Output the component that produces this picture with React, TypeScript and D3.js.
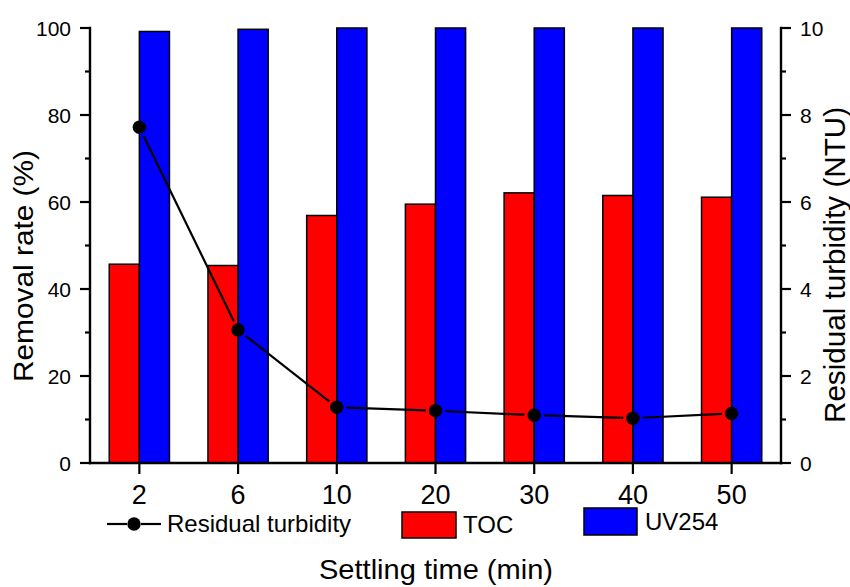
import React from "react";
import * as d3 from "d3";

// Settling time categories (min)
const categories = ["2", "6", "10", "20", "30", "40", "50"];
// Removal rates (%)
const tocRemoval = [45.7, 45.4, 56.9, 59.5, 62.1, 61.5, 61.1];
const uv254Removal = [99.2, 99.7, 100, 100, 100, 100, 100];
// Residual turbidity (NTU)
const turbidity = [7.72, 3.06, 1.28, 1.2, 1.1, 1.03, 1.14];

const leftTicks = [0, 20, 40, 60, 80, 100];
const leftMinor = [10, 30, 50, 70, 90];
const rightTicks = [0, 2, 4, 6, 8, 10];
const rightMinor = [1, 3, 5, 7, 9];

const W = 850;
const H = 587;
const M = { left: 90, right: 781, top: 28, bottom: 463 };
const FONT = "'Liberation Sans', Arial, sans-serif";
const RED = "#ff0000";
const BLUE = "#0000ff";

export default function App() {
  const x = d3.scaleBand<string>().domain(categories).range([M.left, M.right]).padding(0);
  const yL = d3.scaleLinear().domain([0, 100]).range([M.bottom, M.top]);
  const yR = d3.scaleLinear().domain([0, 10]).range([M.bottom, M.top]);
  const bw = x.bandwidth() * 0.305;
  const cx = (c: string) => (x(c) as number) + x.bandwidth() / 2;

  const pts = categories.map((c, i) => [cx(c), yR(turbidity[i])] as [number, number]);
  const r = 6.7;
  const gap = r + 3;
  const segs = pts.slice(1).map((p, i) => {
    const a = pts[i];
    const dx = p[0] - a[0];
    const dy = p[1] - a[1];
    const len = Math.hypot(dx, dy);
    const ux = dx / len;
    const uy = dy / len;
    return [a[0] + ux * gap, a[1] + uy * gap, p[0] - ux * gap, p[1] - uy * gap];
  });

  return (
    <svg width={W} height={H} style={{ position: "absolute", left: 0, top: 0, background: "#fff" }} fontFamily={FONT}>
      {/* bars */}
      {categories.map((c, i) => (
        <g key={c}>
          <rect x={cx(c) - bw} y={yL(tocRemoval[i])} width={bw} height={yL(0) - yL(tocRemoval[i])}
            fill={RED} stroke="#000" strokeWidth={1.5} />
          <rect x={cx(c)} y={yL(uv254Removal[i])} width={bw} height={yL(0) - yL(uv254Removal[i])}
            fill={BLUE} stroke="#000" strokeWidth={1.5} />
        </g>
      ))}

      {/* turbidity line */}
      {segs.map((s, i) => (
        <line key={i} x1={s[0]} y1={s[1]} x2={s[2]} y2={s[3]} stroke="#000" strokeWidth={2.2} />
      ))}
      {pts.map((p, i) => (
        <circle key={i} cx={p[0]} cy={p[1]} r={r} fill="#000" />
      ))}

      {/* axes */}
      <g stroke="#000" strokeWidth={2.4} strokeLinecap="square">
        <line x1={M.left} y1={M.top} x2={M.left} y2={M.bottom} />
        <line x1={M.right} y1={M.top} x2={M.right} y2={M.bottom} />
        <line x1={M.left} y1={M.bottom} x2={M.right} y2={M.bottom} />
      </g>
      <g stroke="#000" strokeWidth={2.2}>
        {leftTicks.map((t) => (
          <line key={"lt" + t} x1={M.left - 10} x2={M.left} y1={yL(t)} y2={yL(t)} />
        ))}
        {leftMinor.map((t) => (
          <line key={"lm" + t} x1={M.left - 5} x2={M.left} y1={yL(t)} y2={yL(t)} />
        ))}
        {rightTicks.map((t) => (
          <line key={"rt" + t} x1={M.right} x2={M.right + 10} y1={yR(t)} y2={yR(t)} />
        ))}
        {rightMinor.map((t) => (
          <line key={"rm" + t} x1={M.right} x2={M.right + 5} y1={yR(t)} y2={yR(t)} />
        ))}
        {categories.map((c) => (
          <line key={"xt" + c} x1={cx(c)} x2={cx(c)} y1={M.bottom} y2={M.bottom + 11} />
        ))}
      </g>

      {/* tick labels */}
      <g fontSize={21} fill="#000">
        {leftTicks.map((t) => (
          <text key={"ll" + t} x={71} y={yL(t)} textAnchor="end" dominantBaseline="central">{t}</text>
        ))}
        {rightTicks.map((t) => (
          <text key={"rl" + t} x={800} y={yR(t)} textAnchor="start" dominantBaseline="central">{t}</text>
        ))}
      </g>
      <g fontSize={27} fill="#000">
        {categories.map((c) => (
          <text key={"xl" + c} x={cx(c)} y={504} textAnchor="middle">{c}</text>
        ))}
      </g>

      {/* axis titles */}
      <text x={436} y={579} fontSize={28} textAnchor="middle" textLength={234} lengthAdjust="spacingAndGlyphs">
        Settling time (min)
      </text>
      <text transform="translate(33,266) rotate(-90)" fontSize={28} textAnchor="middle" textLength={232}
        lengthAdjust="spacingAndGlyphs">
        Removal rate (%)
      </text>
      <text transform="translate(845,265) rotate(-90)" fontSize={29.5} textAnchor="middle" textLength={316}
        lengthAdjust="spacingAndGlyphs">
        Residual turbidity (NTU)
      </text>

      {/* legend */}
      <g>
        <line x1={107} x2={127} y1={524} y2={524} stroke="#000" strokeWidth={2.2} />
        <line x1={141} x2={161} y1={524} y2={524} stroke="#000" strokeWidth={2.2} />
        <circle cx={134} cy={524} r={r} fill="#000" />
        <text x={167} y={532} fontSize={24}>Residual turbidity</text>
        <rect x={402} y={512} width={54} height={26} fill={RED} stroke="#000" strokeWidth={1.5} />
        <text x={463} y={533} fontSize={24}>TOC</text>
        <rect x={584} y={508} width={53} height={27} fill={BLUE} stroke="#000" strokeWidth={1.5} />
        <text x={645} y={530} fontSize={24}>UV254</text>
      </g>
    </svg>
  );
}
